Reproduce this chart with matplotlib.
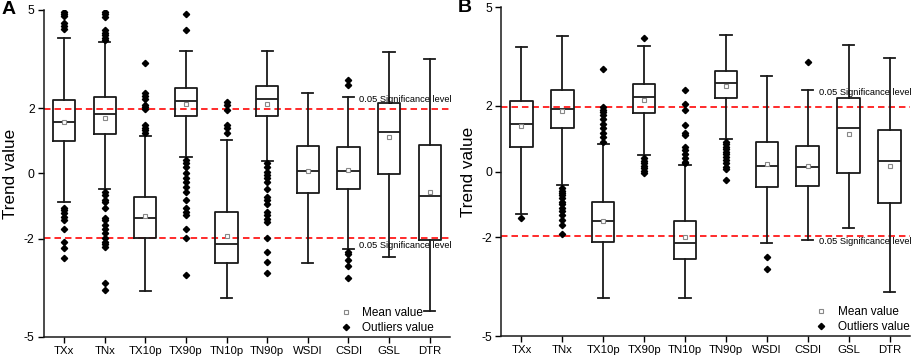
import matplotlib
matplotlib.use("Agg")
import matplotlib.pyplot as plt
from matplotlib.lines import Line2D

plt.rcParams['font.family'] = ['Liberation Sans', 'DejaVu Sans']
plt.rcParams['axes.unicode_minus'] = False

indices = ["TXx", "TNx", "TX10p", "TX90p", "TN10p", "TN90p", "WSDI", "CSDI", "GSL", "DTR"]
sig_level = 1.96

# panel A: box statistics per index
a_whishi = [4.13, 4.03, 1.15, 3.75, 1.02, 3.74, 2.46, 2.33, 3.70, 3.51]
a_q3     = [2.26, 2.33, -0.71, 2.62, -1.17, 2.68, 0.83, 0.80, 2.14, 0.88]
a_med    = [1.58, 1.81, -1.35, 2.21, -2.17, 2.29, 0.09, 0.09, 1.27, -0.70]
a_mean   = [1.58, 1.71, -1.29, 2.12, -1.90, 2.11, 0.06, 0.12, 1.12, -0.58]
a_q1     = [0.99, 1.21, -1.97, 1.75, -2.74, 1.75, -0.61, -0.47, -0.03, -2.02]
a_whislo = [-0.87, -0.47, -3.59, 0.51, -3.80, 0.39, -2.75, -2.32, -2.55, -4.21]
a_fliers = [
    [4.94, 4.87, 4.81, 4.59, 4.51, 4.43, -1.07, -1.12, -1.22, -1.33, -1.43, -1.70, -2.09, -2.29, -2.57],
    [4.94, 4.87, 4.79, 4.38, 4.30, 4.23, 4.13, 4.08, -0.56, -0.66, -0.80, -0.87, -1.05, -1.35,
     -1.43, -1.58, -1.71, -1.83, -1.97, -2.09, -2.17, -2.24, -3.34, -3.55],
    [3.39, 2.45, 2.37, 2.29, 2.09, 2.02, 1.96, 1.48, 1.40, 1.33, 1.24],
    [4.89, 4.40, 0.41, 0.31, 0.20, 0.0, -0.15, -0.25, -0.41, -0.56, -0.80, -1.07, -1.17, -1.27,
     -1.70, -1.97, -3.11],
    [2.19, 2.09, 1.94, 1.48, 1.40, 1.24],
    [0.31, 0.20, 0.05, -0.05, -0.15, -0.25, -0.46, -0.71, -0.82, -0.92, -1.17, -1.27, -1.38,
     -1.48, -1.97, -2.40, -2.72, -3.04],
    [],
    [2.85, 2.70, -2.40, -2.47, -2.65, -2.83, -3.21],
    [],
    [],
]

# panel B
b_whishi = [3.79, 4.11, 0.85, 3.82, 0.19, 4.17, 2.92, 2.47, 3.86, 3.47]
b_q3     = [2.14, 2.47, -0.93, 2.67, -1.50, 3.05, 0.91, 0.77, 2.23, 1.28]
b_med    = [1.45, 1.92, -1.50, 2.28, -2.16, 2.69, 0.17, 0.13, 1.34, 0.32]
b_mean   = [1.38, 1.83, -1.50, 2.19, -2.00, 2.60, 0.22, 0.17, 1.16, 0.16]
b_q1     = [0.74, 1.33, -2.14, 1.77, -2.66, 2.23, -0.47, -0.45, -0.05, -0.95]
b_whislo = [-1.29, -0.40, -3.83, 0.52, -3.85, 0.99, -2.18, -2.08, -1.70, -3.65]
b_fliers = [
    [-1.42],
    [-0.51, -0.58, -0.64, -0.71, -0.81, -0.91, -0.98, -1.09, -1.19, -1.32, -1.47, -1.62, -1.91],
    [3.11, 1.96, 1.88, 1.80, 1.72, 1.59, 1.45, 1.32, 1.19, 1.04, 0.91],
    [4.05, 0.41, 0.32, 0.25, 0.17, 0.10, 0.03, -0.05],
    [2.47, 2.06, 1.88, 1.41, 1.17, 1.10, 0.76, 0.66, 0.54, 0.41, 0.30, 0.25],
    [0.91, 0.84, 0.76, 0.68, 0.61, 0.54, 0.46, 0.35, 0.25, 0.15, 0.07, -0.26],
    [-2.59, -2.96],
    [3.33],
    [],
    [],
]


def make_stats(whishi, q3, med, mean, q1, whislo, fliers):
    stats = []
    for i in range(len(indices)):
        stats.append(dict(label=indices[i], whishi=whishi[i], q3=q3[i], med=med[i],
                          mean=mean[i], q1=q1[i], whislo=whislo[i], fliers=fliers[i]))
    return stats


def draw_panel(ax, stats, letter, sig_text_y, legend_x):
    line = dict(color='#1a1a1a', linewidth=1.3)
    ax.bxp(stats, widths=0.55, showmeans=True, showfliers=True,
           boxprops=line, whiskerprops=line, capprops=line,
           medianprops=dict(color='#1a1a1a', linewidth=1.3),
           meanprops=dict(marker='s', markerfacecolor='white', markeredgecolor='#888888',
                          markersize=3.2, markeredgewidth=0.8),
           flierprops=dict(marker='D', markerfacecolor='black', markeredgecolor='black',
                           markersize=3.2, linestyle='none'))

    for lvl in (sig_level, -sig_level):
        ax.axhline(lvl, color='#ff1a1a', linewidth=1.3, dashes=(3.6, 2.2), zorder=0.5)
    ax.text(8.27, sig_text_y[0], "0.05 Significance level", fontsize=6.7, va='center', ha='left')
    ax.text(8.27, sig_text_y[1], "0.05 Significance level", fontsize=6.7, va='center', ha='left')

    ax.set_xlim(0.5, 10.5)
    ax.set_ylim(-5, 5)
    ax.set_yticks([5, 2, 0, -2, -5])
    ax.set_yticklabels(["5", "2", "0", "-2", "-5"])
    ax.set_ylabel("Trend value", fontsize=12.3, labelpad=4)
    ax.tick_params(axis='both', direction='out', length=4.5, width=1.0, labelsize=8.2, pad=2)
    ax.tick_params(axis='y', labelsize=8.8)
    for s in ('top', 'right'):
        ax.spines[s].set_visible(False)
    for s in ('left', 'bottom'):
        ax.spines[s].set_linewidth(1.1)
        ax.spines[s].set_color('#1a1a1a')

    handles = [
        Line2D([], [], marker='s', markerfacecolor='white', markeredgecolor='#888888',
               markersize=3.2, markeredgewidth=0.8, linestyle='none'),
        Line2D([], [], marker='D', color='black', markersize=3.2, linestyle='none'),
    ]
    ax.legend(handles, ["Mean value", "Outliers value"], loc='lower left',
              bbox_to_anchor=(legend_x, -0.015), frameon=False, fontsize=8.5,
              handlelength=1.0, handletextpad=0.9, labelspacing=0.25, borderpad=0.2)

    ax.text(-0.105, 1.0, letter, transform=ax.transAxes, fontsize=14, fontweight='bold',
            va='center', ha='left')


fig = plt.figure(figsize=(9.13, 3.61), dpi=100)
ax_a = fig.add_axes([0.0479, 0.0665, 0.445, 0.906])
ax_b = fig.add_axes([0.5487, 0.069, 0.448, 0.911])

draw_panel(ax_a, make_stats(a_whishi, a_q3, a_med, a_mean, a_q1, a_whislo, a_fliers),
           "A", (2.27, -2.2), 0.708)
draw_panel(ax_b, make_stats(b_whishi, b_q3, b_med, b_mean, b_q1, b_whislo, b_fliers),
           "B", (2.42, -2.11), 0.748)

fig.savefig("out.png", dpi=100)
